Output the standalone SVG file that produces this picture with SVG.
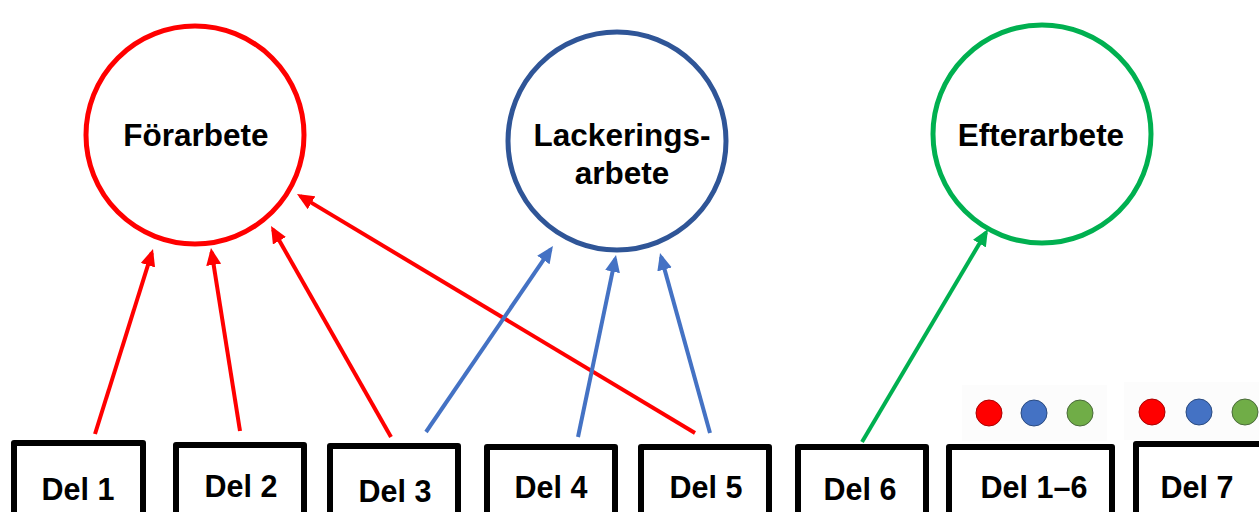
<svg xmlns="http://www.w3.org/2000/svg" width="1259" height="512" viewBox="0 0 1259 512">
<style>
text{font-family:"Liberation Sans",Arial,sans-serif;font-weight:bold;fill:#000;text-anchor:middle}
.c{font-size:31.5px}
.b{font-size:30.5px}
.box{fill:#fff;stroke:#000;stroke-width:6;stroke-linejoin:round}
.circ{fill:#fff;stroke-width:5}
.r{stroke:#ff0000;stroke-width:4;fill:none}
.bl{stroke:#4472c4;stroke-width:4;fill:none}
.g{stroke:#00b050;stroke-width:4;fill:none}
</style>
<defs>
<marker id="ar" markerUnits="userSpaceOnUse" markerWidth="17" markerHeight="15" refX="13" refY="7.5" orient="auto"><path d="M0,0 L17,7.5 L0,15 z" fill="#ff0000"/></marker>
<marker id="ab" markerUnits="userSpaceOnUse" markerWidth="17" markerHeight="15" refX="13" refY="7.5" orient="auto"><path d="M0,0 L17,7.5 L0,15 z" fill="#4472c4"/></marker>
<marker id="ag" markerUnits="userSpaceOnUse" markerWidth="17" markerHeight="15" refX="13" refY="7.5" orient="auto"><path d="M0,0 L17,7.5 L0,15 z" fill="#00b050"/></marker>
</defs>
<rect width="1259" height="512" fill="#fff"/>
<g id="forarbete">
<circle class="circ" cx="195" cy="135" r="109" stroke="#ff0000"/>
<text class="c" x="196" y="146">Förarbete</text>
</g>
<g id="lackeringsarbete">
<circle class="circ" cx="617" cy="141" r="109" stroke="#2f5597"/>
<text class="c" x="622" y="146">Lackerings-</text>
<text class="c" x="622" y="184">arbete</text>
</g>
<g id="efterarbete">
<circle class="circ" cx="1042" cy="134" r="109" stroke="#00b050"/>
<text class="c" x="1041" y="146">Efterarbete</text>
</g>
<g id="connectors">
<line class="r" x1="95" y1="434" x2="151.8" y2="252.8" marker-end="url(#ar)"/>
<line class="r" x1="240" y1="431" x2="211.6" y2="252" marker-end="url(#ar)"/>
<line class="r" x1="391" y1="437" x2="273" y2="229.5" marker-end="url(#ar)"/>
<line class="r" x1="695" y1="433" x2="300.4" y2="196.1" marker-end="url(#ar)"/>
<line class="bl" x1="426" y1="432" x2="550.7" y2="249.3" marker-end="url(#ab)"/>
<line class="bl" x1="578" y1="437" x2="615.2" y2="258.9" marker-end="url(#ab)"/>
<line class="bl" x1="710" y1="433" x2="661.1" y2="256.9" marker-end="url(#ab)"/>
<line class="g" x1="862" y1="442" x2="986" y2="232.4" marker-end="url(#ag)"/>
</g>
<g id="del1"><rect class="box" x="14" y="443" width="129" height="100"/><text class="b" x="78" y="500">Del 1</text></g>
<g id="del2"><rect class="box" x="176" y="445" width="128" height="100"/><text class="b" x="241" y="497">Del 2</text></g>
<g id="del3"><rect class="box" x="330" y="446" width="128" height="100"/><text class="b" x="395" y="502">Del 3</text></g>
<g id="del4"><rect class="box" x="487" y="447" width="128" height="100"/><text class="b" x="551" y="498">Del 4</text></g>
<g id="del5"><rect class="box" x="641" y="447" width="128" height="100"/><text class="b" x="706" y="498">Del 5</text></g>
<g id="del6"><rect class="box" x="798" y="447" width="128" height="100"/><text class="b" x="860" y="500">Del 6</text></g>
<g id="del1-6"><rect class="box" x="949" y="447" width="163" height="100"/><text class="b" x="1034" y="498">Del 1–6</text></g>
<g id="del7"><rect class="box" x="1136" y="444" width="140" height="100"/><text class="b" x="1197" y="498">Del 7</text></g>
<g id="dots1">
<rect x="962" y="385" width="145" height="56" fill="#fcfcfc"/>
<circle cx="989" cy="413" r="13" fill="#ff0000" stroke="#a00" stroke-width="1"/>
<circle cx="1034" cy="413" r="13" fill="#4472c4" stroke="#2a4a80" stroke-width="1"/>
<circle cx="1080" cy="413" r="13" fill="#70ad47" stroke="#4a6a3a" stroke-width="1"/>
</g>
<g id="dots2">
<rect x="1124" y="382" width="135" height="58" fill="#fcfcfc"/>
<circle cx="1152" cy="412" r="13" fill="#ff0000" stroke="#a00" stroke-width="1"/>
<circle cx="1199" cy="412" r="13" fill="#4472c4" stroke="#2a4a80" stroke-width="1"/>
<circle cx="1245" cy="412" r="13" fill="#70ad47" stroke="#4a6a3a" stroke-width="1"/>
</g>
</svg>
